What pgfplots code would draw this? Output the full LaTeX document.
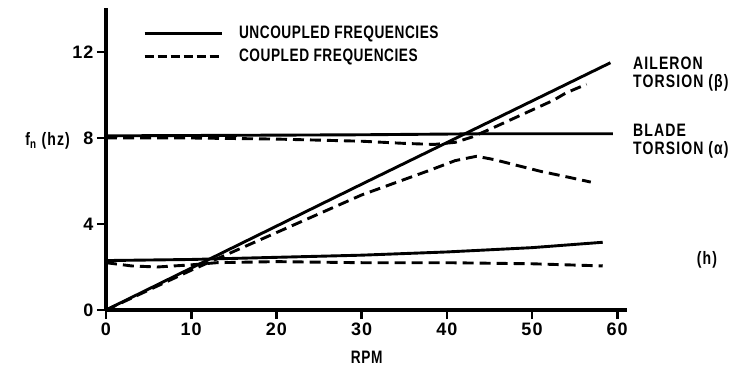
\documentclass[border=0pt]{standalone}
\usepackage{fontspec}
\usepackage{pgfplots}
\pgfplotsset{compat=1.18}
\newfontfamily\lab[FakeStretch=0.76, LetterSpace=3]{Liberation Sans}
\newfontfamily\rlab[FakeStretch=0.78, LetterSpace=6]{Liberation Sans}
\newfontfamily\tlab[LetterSpace=6]{Liberation Sans}
\newcommand\lf{\lab\bfseries\fontsize{18}{21}\selectfont}
\newcommand\rf{\rlab\bfseries\fontsize{18}{21}\selectfont}
\newcommand\tf{\tlab\bfseries\fontsize{18}{21}\selectfont}
\begin{document}
\begin{tikzpicture}
\useasboundingbox (-106pt,-60pt) rectangle (625pt,310pt);
\begin{axis}[
 x=8.52pt, y=21.5pt,
 xmin=0, xmax=61.2, ymin=0, ymax=14.05,
 axis lines=left,
 axis line style={-, line width=3.2pt},
 xtick={0,10,...,60}, ytick={0,4,8,12},
 tick align=outside, major tick length=9pt,
 tick style={line width=2.6pt, black},
 ticklabel style={font=\tf},
 /pgf/number format/assume math mode=true,
 xlabel={RPM},
 xlabel style={font=\lf, at={(axis description cs:0.5,0)}, anchor=center, yshift=-47pt},
 clip=false,
 legend style={draw=none, fill=none, at={(axis cs:4.34,13.3)}, anchor=north west,
   font=\lf, inner sep=0pt, row sep=5pt, legend cell align=left,
   /tikz/every odd column/.append style={column sep=14pt}},
 legend image code/.code={\draw[#1] (0pt,0pt) -- (77pt,0pt);},
 every axis plot/.append style={line width=2.9pt, black},
]
\addlegendimage{line width=2.9pt, black}
\addlegendentry{UNCOUPLED FREQUENCIES}
\addlegendimage{line width=2.9pt, black, dash pattern=on 9pt off 4pt}
\addlegendentry{COUPLED FREQUENCIES}
% uncoupled
\addplot[forget plot] coordinates {(0,0) (30,5.85) (53,10.3) (59.2,11.5)};
\addplot[forget plot] coordinates {(0,8.1) (30,8.15) (45,8.2) (59.5,8.2)};
\addplot[forget plot] coordinates {(0,2.3) (10,2.35) (20,2.45) (30,2.55) (40,2.7) (50,2.9) (58.3,3.15)};
% coupled
\addplot[forget plot, dash pattern=on 11pt off 6pt] coordinates {(0,2.2) (3,2.05) (6,2.0) (10,2.1) (13,2.2) (20,2.25) (30,2.2) (40,2.2) (50,2.15) (58.3,2.05)};
\addplot[forget plot, dash pattern=on 11pt off 6pt] coordinates {(0,8.0) (10,8.0) (20,7.95) (30,7.85) (35,7.75) (38.5,7.7) (41,7.8) (43,8.05) (45.3,8.45) (50,9.3) (52.5,9.75) (54,10.1) (56.4,10.5)};
\addplot[forget plot, dash pattern=on 11pt off 6pt] coordinates {(0,0) (10,1.85) (20,3.6) (30,5.35) (38,6.5) (41,6.95) (43.5,7.15) (45.5,7.0) (48,6.75) (51,6.45) (54,6.2) (56.9,5.95)};
\end{axis}
\node[font=\rf, anchor=base west, inner sep=0pt] at (527pt,240pt) {AILERON};
\node[font=\rf, anchor=base west, inner sep=0pt] at (527pt,222pt) {TORSION (β)};
\node[font=\rf, anchor=base west, inner sep=0pt] at (527pt,173pt) {BLADE};
\node[font=\rf, anchor=base west, inner sep=0pt] at (527pt,155pt) {TORSION (α)};
\node[font=\rf, anchor=center, inner sep=0pt] at (601pt,50pt) {(h)};
\node[font=\rf, anchor=east, inner sep=0pt] at (-36pt,169pt) {f\textsubscript{n} (hz)};
\end{tikzpicture}
\end{document}
